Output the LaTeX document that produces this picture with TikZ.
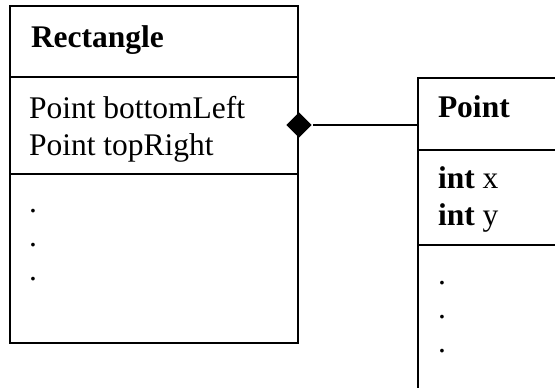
\documentclass[tikz,border=0pt]{standalone}
\usepackage{fontspec}
\setmainfont{Liberation Serif}
\usetikzlibrary{shapes.geometric}
\begin{document}
\begin{tikzpicture}[x=1pt,y=-1pt, line width=2pt,
  lbl/.style={anchor=base west, inner sep=0pt, font=\fontsize{31.5}{37}\selectfont},
  cls/.style={draw, line width=2pt, inner sep=0pt, anchor=north west},
  comp/.style={diamond, fill=black, minimum width=26pt, minimum height=26pt, inner sep=0pt}]
\useasboundingbox (0,0) rectangle (555,388);
\clip (0,0) rectangle (555,388);
% Rectangle class
\node[cls, minimum width=288pt, minimum height=337pt] (rect) at (9,5) {};
\draw (rect.west |- 0,77) -- (rect.east |- 0,77);
\draw (rect.west |- 0,174) -- (rect.east |- 0,174);
\node[lbl] (rname) at (30,47) {\textbf{Rectangle}};
\node[lbl] (ra1) at (28,118) {Point bottomLeft};
\node[lbl] (ra2) at (28,155) {Point topRight};
\node[lbl] (rd1) at (28,212) {.};
\node[lbl] (rd2) at (28,246) {.};
\node[lbl] (rd3) at (28,280) {.};
% Point class
\node[cls, minimum width=170pt, minimum height=340pt] (pbox) at (417,77) {};
\draw (pbox.west |- 0,150) -- (pbox.east |- 0,150);
\draw (pbox.west |- 0,245) -- (pbox.east |- 0,245);
\node[lbl] (pname) at (437,117) {\textbf{Point}};
\node[lbl] (pa1) at (437,188) {\textbf{int} x};
\node[lbl] (pa2) at (437,225) {\textbf{int} y};
\node[lbl] (pd1) at (437,284) {.};
\node[lbl] (pd2) at (437,318) {.};
\node[lbl] (pd3) at (437,352) {.};
% composition
\node[comp] (dia) at (299,125) {};
\draw (dia.east) -- (dia.east -| pbox.west);
\end{tikzpicture}
\end{document}
